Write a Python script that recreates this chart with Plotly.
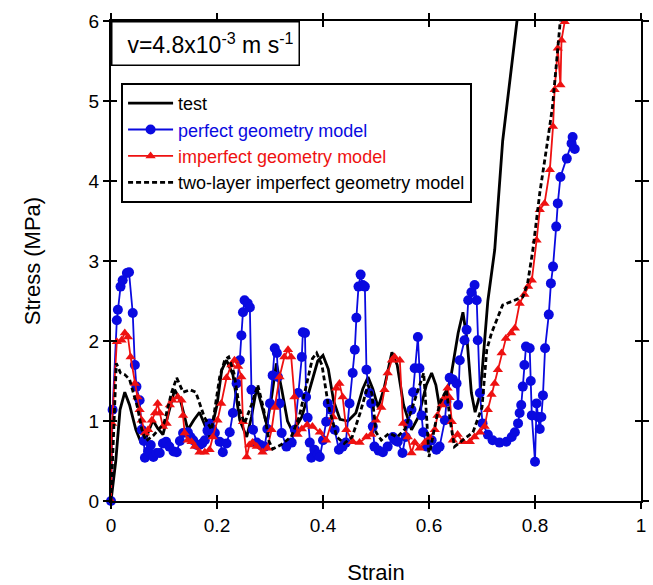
import plotly.graph_objects as go

# ---- data (strain, stress in MPa) ----
test_x = [0, 0.009, 0.017, 0.026, 0.035, 0.047, 0.056, 0.067, 0.079, 0.088, 0.098, 0.11, 0.12, 0.131,
          0.145, 0.156, 0.167, 0.177, 0.186, 0.2, 0.209, 0.218, 0.23, 0.243, 0.256, 0.265, 0.275, 0.284,
          0.294, 0.303, 0.312, 0.322, 0.333, 0.343, 0.36, 0.375, 0.39, 0.40, 0.41, 0.42, 0.432, 0.447,
          0.462, 0.475, 0.485, 0.494, 0.504, 0.515, 0.53, 0.54, 0.552, 0.567, 0.58, 0.595, 0.605, 0.613,
          0.62, 0.64, 0.655, 0.664, 0.672, 0.68, 0.687, 0.695, 0.70, 0.711, 0.724, 0.739, 0.752, 0.767, 0.775]
test_y = [0, 0.5, 1.14, 1.36, 1.2, 0.89, 0.74, 0.8, 1.01, 0.91, 0.83, 1.14, 1.39, 1.26,
          0.89, 1.01, 1.11, 0.95, 0.79, 1.2, 1.64, 1.76, 1.58, 1.01, 0.8, 1.05, 1.42, 1.2,
          0.95, 1.3, 1.72, 1.4, 1.0, 0.86, 1.05, 1.4, 1.75, 1.82, 1.65, 1.25, 1.02, 1.0,
          1.1, 1.4, 1.55, 1.4, 1.17, 1.4, 1.86, 1.7, 1.2, 0.89, 1.05, 1.45, 1.6, 1.45,
          1.17, 1.5, 2.1, 2.36, 2.0, 1.35, 1.11, 1.3, 1.6, 2.5, 3.14, 4.5, 5.2, 6.0, 6.5]

perfect_x = [0, 0.003, 0.011, 0.013, 0.018, 0.022, 0.03, 0.034, 0.041, 0.045, 0.048, 0.054, 0.058, 0.062,
             0.064, 0.07, 0.075, 0.08, 0.086, 0.092, 0.098, 0.104, 0.11, 0.118, 0.124, 0.13, 0.136, 0.145,
             0.15, 0.155, 0.162, 0.167, 0.172, 0.177, 0.182, 0.186, 0.191, 0.196, 0.205, 0.211, 0.218, 0.224,
             0.23, 0.237, 0.243, 0.246, 0.249, 0.252, 0.258, 0.262, 0.265, 0.268, 0.275, 0.282, 0.29, 0.295,
             0.3, 0.305, 0.309, 0.313, 0.315, 0.318, 0.322, 0.331, 0.341, 0.347, 0.353, 0.36, 0.362, 0.366,
             0.368, 0.371, 0.375, 0.378, 0.384, 0.39, 0.394, 0.4, 0.406, 0.409, 0.415, 0.422, 0.43, 0.437,
             0.443, 0.45, 0.456, 0.46, 0.463, 0.467, 0.471, 0.475, 0.479, 0.482, 0.487, 0.491, 0.494, 0.497,
             0.505, 0.513, 0.522, 0.532, 0.536, 0.541, 0.55, 0.556, 0.56, 0.567, 0.57, 0.573, 0.579, 0.582,
             0.586, 0.589, 0.596, 0.605, 0.614, 0.62, 0.63, 0.633, 0.639, 0.645, 0.652, 0.655, 0.658, 0.667,
             0.671, 0.674, 0.68, 0.686, 0.69, 0.692, 0.696, 0.701, 0.711, 0.72, 0.733, 0.746, 0.756, 0.762,
             0.768, 0.771, 0.774, 0.777, 0.78, 0.783, 0.79, 0.792, 0.794, 0.8, 0.803, 0.806, 0.809, 0.812,
             0.815, 0.819, 0.826, 0.83, 0.834, 0.84, 0.843, 0.848, 0.86, 0.869, 0.871, 0.875]
perfect_y = [0, 1.14, 2.26, 2.39, 2.68, 2.76, 2.85, 2.86, 2.35, 1.7, 1.43, 1.26, 0.89, 0.75,
             0.54, 0.62, 0.7, 0.55, 0.6, 0.6, 0.72, 0.74, 0.68, 0.62, 0.61, 0.75, 0.85, 0.86,
             0.8, 0.76, 0.7, 0.7, 0.72, 0.76, 0.88, 0.97, 0.9, 0.85, 0.74, 0.61, 0.72, 0.86,
             1.1, 1.47, 1.76, 2.07, 2.36, 2.51, 2.47, 2.42, 1.39, 0.89, 0.73, 0.7, 0.68, 0.9,
             1.22, 1.57, 1.91, 1.85, 1.55, 1.22, 0.85, 0.68, 0.73, 0.89, 1.35, 1.8, 2.11, 2.1,
             1.3, 1.04, 0.73, 0.54, 0.64, 0.58, 0.55, 0.76, 0.99, 1.22, 1.14, 0.89, 0.64, 0.68,
             0.73, 1.22, 1.6, 1.89, 2.29, 2.68, 2.83, 2.7, 2.68, 1.64, 1.35, 1.22, 0.93, 0.68,
             0.63, 0.61, 0.68, 0.8, 0.76, 0.74, 0.6, 0.8, 0.97, 1.14, 1.36, 1.66, 2.05, 1.66,
             1.07, 0.86, 0.68, 0.76, 0.64, 0.68, 1.01, 1.24, 1.54, 1.52, 1.47, 1.2, 1.76, 2.01,
             2.14, 2.51, 2.61, 2.7, 2.51, 2.01, 1.35, 0.97, 0.83, 0.76, 0.73, 0.74, 0.8, 0.86,
             0.97, 1.1, 1.2, 1.43, 1.7, 1.93, 1.91, 1.5, 1.07, 0.49, 1.22, 1.05, 0.9, 1.05,
             1.32, 1.91, 2.33, 2.72, 2.93, 3.43, 3.72, 4.05, 4.28, 4.47, 4.55, 4.4]

imperfect_x = [0, 0.002, 0.011, 0.02, 0.026, 0.032, 0.037, 0.045, 0.05, 0.054, 0.058, 0.064, 0.07, 0.077,
               0.083, 0.088, 0.092, 0.098, 0.105, 0.111, 0.116, 0.126, 0.133, 0.136, 0.139, 0.145, 0.152,
               0.158, 0.167, 0.177, 0.186, 0.192, 0.201, 0.208, 0.218, 0.227, 0.233, 0.24, 0.246, 0.249,
               0.256, 0.261, 0.267, 0.275, 0.286, 0.295, 0.303, 0.309, 0.318, 0.327, 0.334, 0.34, 0.346,
               0.352, 0.36, 0.37, 0.38, 0.394, 0.406, 0.419, 0.425, 0.431, 0.437, 0.444, 0.456, 0.469,
               0.482, 0.491, 0.5, 0.51, 0.516, 0.522, 0.53, 0.535, 0.545, 0.551, 0.56, 0.567, 0.573,
               0.582, 0.592, 0.601, 0.611, 0.616, 0.624, 0.63, 0.635, 0.639, 0.643, 0.645, 0.654, 0.664,
               0.677, 0.686, 0.696, 0.705, 0.711, 0.718, 0.724, 0.73, 0.737, 0.745, 0.755, 0.762, 0.771,
               0.78, 0.787, 0.794, 0.803, 0.809, 0.818, 0.828, 0.834, 0.837, 0.843, 0.848, 0.85, 0.856]
imperfect_y = [0, 0.97, 1.99, 2.01, 2.1, 2.05, 1.8, 1.47, 1.3, 1.14, 1.01, 0.85, 0.89, 1.01,
               1.1, 1.22, 1.1, 0.93, 0.97, 1.2, 1.26, 1.3, 1.26, 1.07, 0.85, 0.76, 0.74,
               0.68, 0.61, 0.61, 0.64, 0.8, 1.01, 1.22, 1.54, 1.7, 1.76, 1.68, 1.55, 0.99,
               0.55, 0.7, 0.73, 0.68, 0.61, 0.66, 0.89, 1.17, 1.55, 1.8, 1.89, 1.8, 1.3,
               0.83, 0.9, 0.95, 0.93, 0.86, 0.76, 1.05, 1.41, 1.47, 1.3, 0.89, 0.74, 0.73,
               0.8, 0.83, 1.01, 1.17, 1.39, 1.6, 1.76, 1.8, 1.76, 0.97, 0.8, 0.6, 0.73,
               0.66, 0.73, 0.79, 0.89, 1.07, 1.2, 1.3, 1.41, 1.29, 0.99, 0.76, 0.83, 0.74,
               0.74, 0.8, 0.86, 0.93, 1.14, 1.33, 1.47, 1.64, 1.85, 2.03, 2.1, 2.16, 2.47,
               2.58, 2.68, 2.76, 3.26, 3.64, 3.72, 4.14, 4.68, 5.14, 5.66, 5.2, 5.76, 5.99]

twolayer_x = [0, 0.005, 0.01, 0.018, 0.026, 0.035, 0.045, 0.05, 0.058, 0.066, 0.08, 0.1, 0.114, 0.124,
              0.136, 0.149, 0.16, 0.168, 0.176, 0.19, 0.205, 0.215, 0.222, 0.232, 0.243, 0.252, 0.265,
              0.277, 0.288, 0.298, 0.305, 0.32, 0.34, 0.355, 0.37, 0.38, 0.388, 0.398, 0.41, 0.426, 0.44,
              0.455, 0.47, 0.485, 0.492, 0.5, 0.51, 0.525, 0.54, 0.555, 0.57, 0.583, 0.59, 0.595, 0.6,
              0.61, 0.62, 0.633, 0.64, 0.648, 0.664, 0.683, 0.7, 0.709, 0.718, 0.739, 0.777, 0.786, 0.796,
              0.809, 0.824, 0.833, 0.847, 0.852]
twolayer_y = [0, 0.9, 1.72, 1.6, 1.58, 1.52, 1.3, 1.17, 0.9, 0.75, 0.82, 0.97, 1.35, 1.54,
              1.36, 1.39, 1.36, 1.2, 1.05, 0.89, 1.55, 1.77, 1.8, 1.6, 1.14, 0.97, 1.2,
              1.45, 1.15, 0.75, 0.65, 0.7, 0.8, 1.05, 1.5, 1.78, 1.85, 1.7, 1.2, 0.8, 0.72,
              0.8, 1.1, 1.45, 1.35, 0.86, 0.76, 0.85, 0.8, 0.9, 1.2, 1.47, 1.6, 1.1, 0.55,
              0.9, 1.22, 1.39, 1.0, 0.68, 0.76, 0.86, 1.17, 1.89, 2.1, 2.45, 2.55, 2.72, 3.14,
              3.85, 4.51, 4.93, 5.95, 6.2]

x_ticks = [0, 0.2, 0.4, 0.6, 0.8, 1]
x_labels = ["0", "0.2", "0.4", "0.6", "0.8", "1"]
y_ticks = [0, 1, 2, 3, 4, 5, 6]

BLUE = "#0a0ae0"
RED = "#ee1111"
FONT = "Liberation Sans, Arial, sans-serif"

fig = go.Figure()
fig.add_trace(go.Scatter(x=test_x, y=test_y, mode="lines", name="test",
                         line=dict(color="black", width=2.8)))
fig.add_trace(go.Scatter(x=perfect_x, y=perfect_y, mode="lines+markers",
                         name=f'<span style="color:{BLUE}">perfect geometry model</span>',
                         line=dict(color=BLUE, width=1.8),
                         marker=dict(symbol="circle", size=10, color=BLUE),
                         cliponaxis=False))
fig.add_trace(go.Scatter(x=imperfect_x, y=imperfect_y, mode="lines+markers",
                         name=f'<span style="color:{RED}">imperfect geometry model</span>',
                         line=dict(color=RED, width=1.8),
                         marker=dict(symbol="triangle-up", size=9, color=RED)))
fig.add_trace(go.Scatter(x=twolayer_x, y=twolayer_y, mode="lines",
                         name="two-layer imperfect geometry model",
                         line=dict(color="black", width=2.8, dash="5px,3px")))
# dummy trace for the overlay axes that carry the inner half of the crossing ticks
fig.add_trace(go.Scatter(x=[None], y=[None], xaxis="x2", yaxis="y2",
                         showlegend=False, hoverinfo="skip"))

axis_common = dict(showgrid=False, zeroline=False, showline=True, linecolor="black",
                   linewidth=2, tickcolor="black", tickwidth=2, ticklen=6, automargin=False)

fig.update_layout(
    width=653, height=585,
    margin=dict(l=111, r=12, t=21, b=84),
    paper_bgcolor="white", plot_bgcolor="white",
    font=dict(family=FONT, color="black", size=18),
    showlegend=True,
    legend=dict(x=0.019, y=0.871, xanchor="left", yanchor="top",
                bgcolor="white", bordercolor="black", borderwidth=2,
                font=dict(size=18, family=FONT, color="black"),
                itemwidth=45, tracegroupgap=0),
    xaxis=dict(range=[0, 1], tickvals=x_ticks, ticktext=x_labels, ticks="outside",
               mirror="ticks", tickfont=dict(size=19),
               title=dict(text="Strain", font=dict(size=22), standoff=34), **axis_common),
    yaxis=dict(range=[0, 6], tickvals=y_ticks, ticks="outside", mirror="ticks",
               tickfont=dict(size=19),
               title=dict(text="Stress (MPa)", font=dict(size=22), standoff=42), **axis_common),
    xaxis2=dict(range=[0, 1], tickvals=x_ticks, ticks="inside", mirror="ticks",
                overlaying="x", anchor="y2", showticklabels=False, **axis_common),
    yaxis2=dict(range=[0, 6], tickvals=y_ticks, ticks="inside", mirror="ticks",
                overlaying="y", anchor="x2", showticklabels=False, **axis_common),
    annotations=[dict(xref="paper", yref="paper", x=0, y=1, xanchor="left", yanchor="top",
                      text="v=4.8x10<sup>-3</sup> m s<sup>-1</sup>", showarrow=False,
                      font=dict(size=23, family=FONT, color="black"),
                      bordercolor="black", borderwidth=1.5, borderpad=5, bgcolor="white",
                      width=176, height=32, align="right")],
)

fig.write_html("out.html")
